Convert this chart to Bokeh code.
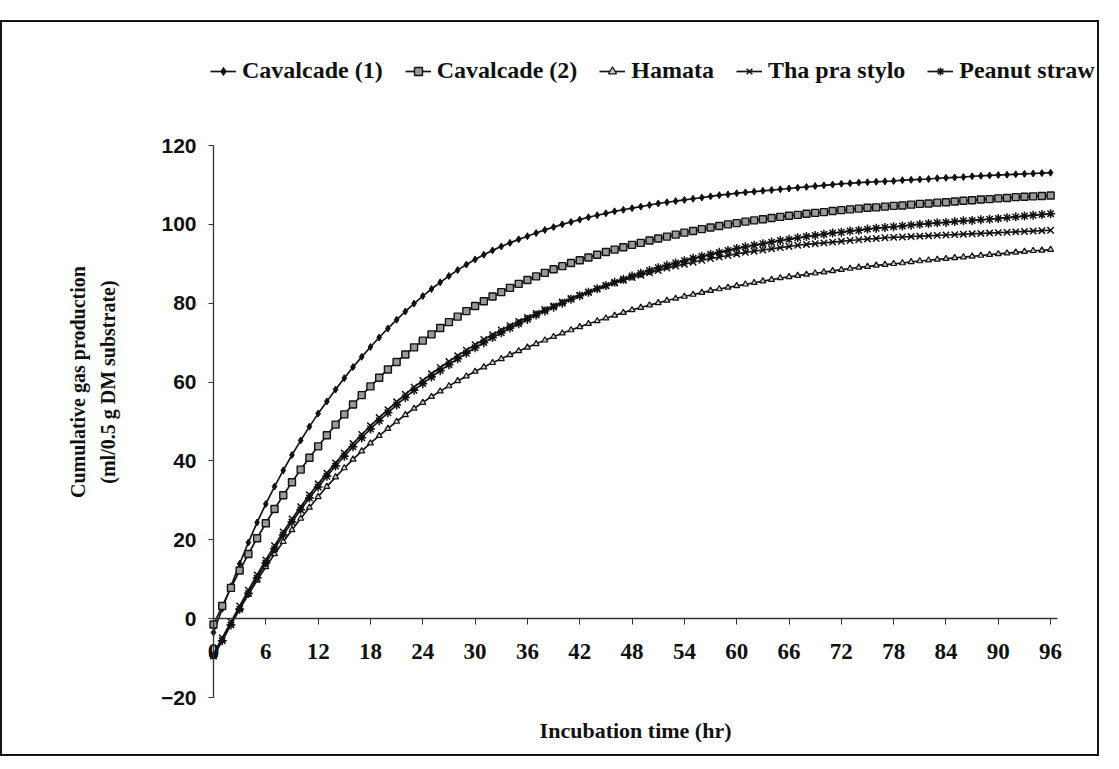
from bokeh.plotting import figure
from bokeh.models import LinearAxis, FixedTicker, Legend, LegendItem, Label, Range1d
from bokeh.embed import file_html
from bokeh.resources import INLINE

# ---------------- data ----------------
hours = list(range(0, 97))
x_ticks = [0, 6, 12, 18, 24, 30, 36, 42, 48, 54, 60, 66, 72, 78, 84, 90, 96]
y_ticks = [-20, 0, 20, 40, 60, 80, 100, 120]

series_names = ["Cavalcade (1)", "Cavalcade (2)", "Hamata", "Tha pra stylo", "Peanut straw"]

cavalcade1 = [
    -3.5, 2.5, 8.2, 13.9, 19.3, 24.4, 29.1, 33.5, 37.6, 41.5,
    45.2, 48.7, 52.0, 55.1, 58.1, 61.0, 63.8, 66.4, 68.9, 71.3,
    73.6, 75.8, 77.9, 79.9, 81.8, 83.6, 85.3, 86.9, 88.4, 89.8,
    91.1, 92.3, 93.4, 94.4, 95.3, 96.2, 97.0, 97.8, 98.6, 99.3,
    100.0, 100.6, 101.2, 101.8, 102.3, 102.8, 103.3, 103.7, 104.1, 104.5,
    104.9, 105.3, 105.6, 105.9, 106.2, 106.5, 106.8, 107.1, 107.4, 107.6,
    107.9, 108.1, 108.3, 108.5, 108.7, 108.9, 109.1, 109.3, 109.5, 109.7,
    109.9, 110.1, 110.3, 110.4, 110.6, 110.7, 110.8, 110.9, 111.0, 111.2,
    111.3, 111.4, 111.5, 111.7, 111.8, 111.9, 112.0, 112.2, 112.3, 112.4,
    112.5, 112.6, 112.7, 112.8, 112.9, 113.0, 113.1,
]
cavalcade2 = [
    -1.5, 3.2, 7.8, 12.2, 16.4, 20.4, 24.2, 27.8, 31.3, 34.6,
    37.8, 40.8, 43.7, 46.5, 49.2, 51.8, 54.3, 56.7, 58.9, 61.1,
    63.2, 65.1, 67.0, 68.8, 70.5, 72.1, 73.7, 75.2, 76.6, 78.0,
    79.3, 80.5, 81.7, 82.8, 83.9, 84.9, 85.9, 86.8, 87.7, 88.6,
    89.4, 90.2, 90.9, 91.6, 92.3, 93.0, 93.6, 94.2, 94.8, 95.3,
    95.9, 96.4, 96.9, 97.4, 97.9, 98.3, 98.8, 99.2, 99.6, 100.0,
    100.3, 100.7, 101.0, 101.3, 101.6, 101.9, 102.2, 102.4, 102.7, 102.9,
    103.1, 103.4, 103.6, 103.8, 104.0, 104.2, 104.3, 104.5, 104.7, 104.8,
    105.0, 105.2, 105.3, 105.5, 105.6, 105.8, 106.0, 106.1, 106.3, 106.4,
    106.6, 106.7, 106.9, 107.0, 107.1, 107.2, 107.3,
]
hamata = [
    -9.5, -5.4, -1.4, 2.4, 6.1, 9.7, 13.1, 16.4, 19.5, 22.5,
    25.4, 28.2, 30.9, 33.5, 35.9, 38.2, 40.4, 42.5, 44.5, 46.4,
    48.2, 50.0, 51.7, 53.3, 54.8, 56.3, 57.7, 59.0, 60.3, 61.5,
    62.7, 63.8, 64.9, 65.9, 66.9, 67.9, 68.8, 69.7, 70.6, 71.5,
    72.4, 73.2, 74.0, 74.8, 75.5, 76.2, 76.9, 77.6, 78.3, 78.9,
    79.5, 80.1, 80.7, 81.2, 81.7, 82.2, 82.7, 83.2, 83.6, 84.0,
    84.4, 84.8, 85.2, 85.6, 86.0, 86.4, 86.7, 87.0, 87.3, 87.6,
    87.9, 88.2, 88.5, 88.8, 89.1, 89.3, 89.6, 89.8, 90.0, 90.2,
    90.5, 90.7, 90.9, 91.1, 91.3, 91.5, 91.7, 91.9, 92.1, 92.3,
    92.5, 92.7, 92.9, 93.1, 93.3, 93.4, 93.6,
]
tha_pra_stylo = [
    -9.0, -4.9, -0.8, 3.2, 7.2, 11.1, 14.9, 18.5, 22.0, 25.3,
    28.4, 31.4, 34.2, 36.9, 39.5, 42.0, 44.4, 46.7, 48.9, 51.0,
    53.0, 55.0, 56.9, 58.7, 60.4, 62.1, 63.7, 65.2, 66.7, 68.1,
    69.5, 70.8, 72.0, 73.2, 74.3, 75.4, 76.4, 77.4, 78.4, 79.3,
    80.3, 81.2, 82.0, 82.8, 83.6, 84.4, 85.1, 85.8, 86.5, 87.1,
    87.7, 88.3, 88.9, 89.4, 89.9, 90.4, 90.9, 91.3, 91.7, 92.1,
    92.5, 92.9, 93.2, 93.5, 93.8, 94.1, 94.4, 94.7, 94.9, 95.1,
    95.3, 95.5, 95.7, 95.9, 96.1, 96.3, 96.4, 96.6, 96.7, 96.8,
    96.9, 97.0, 97.1, 97.2, 97.3, 97.4, 97.5, 97.6, 97.7, 97.8,
    97.9, 98.0, 98.1, 98.2, 98.3, 98.4, 98.5,
]
peanut_straw = [
    -9.5, -5.6, -1.6, 2.4, 6.4, 10.3, 14.1, 17.7, 21.2, 24.5,
    27.6, 30.6, 33.4, 36.1, 38.7, 41.2, 43.6, 45.9, 48.1, 50.2,
    52.2, 54.2, 56.1, 57.9, 59.6, 61.3, 62.9, 64.4, 65.9, 67.3,
    68.7, 70.0, 71.3, 72.5, 73.7, 74.8, 75.9, 77.0, 78.0, 79.0,
    80.0, 81.0, 81.9, 82.8, 83.7, 84.5, 85.3, 86.1, 86.9, 87.6,
    88.3, 89.0, 89.6, 90.2, 90.8, 91.4, 91.9, 92.4, 92.9, 93.4,
    93.9, 94.3, 94.7, 95.1, 95.5, 95.9, 96.2, 96.6, 96.9, 97.2,
    97.5, 97.8, 98.0, 98.3, 98.5, 98.8, 99.0, 99.2, 99.4, 99.6,
    99.8, 100.0, 100.2, 100.4, 100.5, 100.7, 100.9, 101.0, 101.2, 101.3,
    101.5, 101.7, 101.9, 102.1, 102.3, 102.5, 102.7,
]

series_values = [cavalcade1, cavalcade2, hamata, tha_pra_stylo, peanut_straw]

# ---------------- layout (pixels) ----------------
W, H = 1099, 736
AX_LEFT_PX, AX_TOP_PX, AX_BOTTOM_PX = 211, 123, 675   # where x=0, y=120, y=-20 fall
PX_PER_HR = 8.72
X_AXIS_END = 96.8
Y_LO, Y_HI = -20, 120
px_per_unit = (AX_BOTTOM_PX - AX_TOP_PX) / (Y_HI - Y_LO)
x_start = -AX_LEFT_PX / PX_PER_HR
x_end = (W - AX_LEFT_PX) / PX_PER_HR
y_end = Y_HI + AX_TOP_PX / px_per_unit
y_start = Y_LO - (H - AX_BOTTOM_PX) / px_per_unit

p = figure(width=W, height=H, output_backend="svg", toolbar_location=None,
           x_range=Range1d(x_start, x_end), y_range=Range1d(y_start, y_end),
           x_axis_location=None, y_axis_location=None, min_border=0,
           background_fill_color="white", border_fill_color="white")
p.outline_line_color = None
p.xgrid.visible = False
p.ygrid.visible = False
p.styles = {"border": "2px solid #151515", "margin-top": "20px"}

# y axis crossing at x = 0
yax = LinearAxis(fixed_location=0, bounds=(Y_LO, Y_HI), ticker=FixedTicker(ticks=y_ticks))
yax.major_label_text_font = "Liberation Sans"
yax.major_label_text_font_style = "bold"
yax.major_label_text_font_size = "21px"
yax.major_label_text_color = "#111111"
yax.major_tick_in = 0
yax.major_tick_out = 5
yax.minor_tick_line_color = None
yax.axis_line_color = "#333333"
yax.axis_line_width = 1.3
yax.major_tick_line_color = "#333333"
yax.major_label_standoff = 12
p.add_layout(yax, "left")

# x axis crossing at y = 0
xax = LinearAxis(fixed_location=0, bounds=(0, X_AXIS_END), ticker=FixedTicker(ticks=x_ticks))
xax.major_label_text_font = "Liberation Serif"
xax.major_label_text_font_style = "bold"
xax.major_label_text_font_size = "23px"
xax.major_label_text_color = "#111111"
xax.major_tick_in = 0
xax.major_tick_out = 6
xax.minor_tick_line_color = None
xax.axis_line_color = "#333333"
xax.axis_line_width = 1.3
xax.major_tick_line_color = "#333333"
xax.major_label_standoff = 19
p.add_layout(xax, "below")

# series
styles = [
    dict(marker="diamond", size=7, fill_color="#111111", line_color="#111111", line_width=1.0),
    dict(marker="square", size=7, fill_color="#9a9a9a", line_color="#111111", line_width=1.4),
    dict(marker="triangle", size=6, fill_color="#cccccc", line_color="#111111", line_width=1.2),
    dict(marker="x", size=9, fill_color=None, line_color="#111111", line_width=1.5),
    dict(marker="asterisk", size=9, fill_color=None, line_color="#111111", line_width=1.5),
]

items = []
for name, vals, st in zip(series_names, series_values, styles):
    rl = p.line(hours, vals, line_color="#151515", line_width=1.7)
    rm = p.scatter(hours, vals, **st)
    items.append(LegendItem(label=name, renderers=[rl, rm]))

legend = Legend(items=items, orientation="horizontal", location=(208, 674),
                label_text_font="Liberation Serif", label_text_font_style="bold",
                label_text_font_size="24px", label_text_color="#111111",
                glyph_width=26, glyph_height=20, label_standoff=6, spacing=22,
                padding=0, margin=0, border_line_color=None,
                background_fill_alpha=0)
p.add_layout(legend)

# axis titles
p.add_layout(Label(x=0, y=60, x_offset=-136, text="Cumulative gas production",
                   angle=90, angle_units="deg", text_align="center", text_baseline="middle",
                   text_font="Liberation Serif", text_font_style="bold",
                   text_font_size="20px", text_color="#111111"))
p.add_layout(Label(x=0, y=60, x_offset=-106, text="(ml/0.5 g DM substrate)",
                   angle=90, angle_units="deg", text_align="center", text_baseline="middle",
                   text_font="Liberation Serif", text_font_style="bold",
                   text_font_size="20px", text_color="#111111"))
p.add_layout(Label(x=X_AXIS_END / 2, y=Y_LO, y_offset=-33, text="Incubation time (hr)",
                   text_align="center", text_baseline="middle",
                   text_font="Liberation Serif", text_font_style="bold",
                   text_font_size="22px", text_color="#111111"))

open("out.html", "w").write(file_html(p, INLINE))
